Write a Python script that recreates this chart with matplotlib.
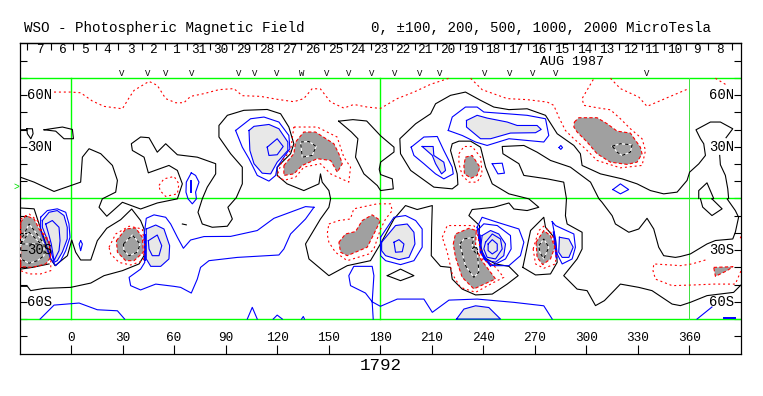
import matplotlib
import matplotlib.pyplot as plt
matplotlib.use('Agg')

# longitude ticks and labels
LON_TICKS = [0, 30, 60, 90, 120, 150, 180, 210, 240, 270, 300, 330, 360]
LAT_TICKS = [-80, -70, -60, -50, -40, -30, -20, -10, 0, 10, 20, 30, 40, 50, 60, 70, 80]
LAT_LABELS = [(60, '60N'), (30, '30N'), (-30, '30S'), (-60, '60S')]

# day of month along the top
DAY_TICKS = [-25.4, -11.4, 1.4, 14.4, 27.6, 41.5, 54.5, 67.3, 80.7, 93.9, 107.4, 120.8, 134, 147, 160.8,
             174.8, 186.6, 200.5, 213.1, 226.7, 239.3, 252.3, 266.1, 279.1, 292.4, 305.2, 319.2, 332.4,
             345.4, 358.2, 371, 384.8]
DAY_LABELS = ['7', '6', '5', '4', '3', '2', '1', '31', '30', '29', '28', '27', '26', '25', '24', '23', '22',
              '21', '20', '19', '18', '17', '16', '15', '14', '13', '12', '11', '10', '9', '8']
DAY_LONS = [-18.2, -5, 8.1, 21.2, 34.7, 47.4, 60.9, 74.3, 87.1, 100.5, 113.8, 127.2, 140.4, 154, 167, 180,
            192.8, 205.8, 219.1, 232.5, 245.7, 258.7, 272.1, 285.5, 298.8, 312, 325.6, 338.2, 351.2, 364.4, 378]

# observation marks above the map
OBS_LONS = [29.3, 44.4, 55.1, 70.2, 97.7, 107, 119.5, 134.2, 148.6, 161.7, 174.9, 188.3, 203, 214.5, 240.8,
            255.4, 268.8, 282, 334.9]
OBS_MARKS = ['V', 'V', 'V', 'V', 'V', 'V', 'V', 'W', 'V', 'V', 'V', 'V', 'V', 'V', 'V', 'V', 'V', 'V', 'V']

# strong negative field, grey
GREY_FILLS = [
    [(123.9, 19.2), (129.7, 26), (130.7, 32.8), (135.5, 38.6), (142.3, 38.6), (153, 31.8), (155.9, 26), (157.9, 20.2),
     (155, 15.3), (151.1, 22.1), (143.3, 23.1), (134.6, 19.2), (129.7, 14.3), (123.9, 13.4)],
    [(293, 44.4), (295.6, 46.9), (306.2, 46.9), (312.1, 43.4), (317.9, 39.1), (325.6, 38), (331.4, 29.8), (332.4, 26),
     (329.5, 21.1), (323.7, 19.8), (314, 21.1), (306.2, 26), (300.4, 32.8), (294.6, 38.6), (292.7, 41.5)],
    [(229.6, 24), (233.5, 25), (238, 18.2), (236.4, 13.4), (232.9, 11.8), (229, 14.3), (228.7, 19.2)],
    [(-29.3, -13.8), (-26.4, -9.9), (-21.5, -11.9), (-18.6, -17.7), (-12.8, -25.4), (-11.8, -34.1), (-14.7, -38),
     (-22.5, -40), (-29.3, -39.6)],
    [(26.4, -24.5), (31.8, -17.7), (37.6, -17.1), (41.5, -22.5), (42.1, -31.2), (36.7, -36.1), (31.8, -36.1), (27, -31.2)],
    [(155.9, -25.4), (159.8, -20.6), (165.6, -19.2), (169.5, -12.8), (175.3, -9.5), (180.1, -12.8), (176.3, -20.6),
     (172.4, -28.3), (160.8, -33.2), (156.9, -31.2)],
    [(222.5, -26.4), (223.8, -20.6), (231.6, -17.3), (235.9, -18.6), (235.5, -27.3), (238.4, -35.1), (244.2, -42.8),
     (247.1, -46.7), (234.5, -52.5), (227.7, -45.8), (223.8, -34.1)],
    [(270.7, -25.4), (275.2, -18.6), (279.1, -21.6), (281.6, -28.3), (279.1, -35.1), (274.6, -38.4), (271.3, -34.2)],
    [(374.1, -40), (385.3, -39.6), (381.9, -41.9), (375.1, -45.2)],
]

# strong positive field, light grey
LIGHT_FILLS = [
    [(103.6, 39.5), (106.5, 41.9), (115.2, 43), (121, 40.5), (126.2, 32.8), (126.2, 27.9), (120, 21.1), (116.2, 14.3),
     (111.3, 14.7), (106.5, 20.2), (104.1, 27.9)],
    [(230.2, 45.3), (236.4, 48.3), (242.2, 46.7), (253.9, 44.4), (259.7, 42.4), (271.3, 42.4), (273.7, 40.1),
     (270.4, 38.2), (255.8, 38), (244.2, 34.7), (238.4, 34.7), (230.2, 41.5)],
    [(204.4, 30.2), (210.8, 30.2), (211.2, 25), (217, 21.1), (218, 16.3), (215.7, 14.3), (212.2, 20.2), (210.3, 25)],
    [(-16.7, -12.8), (-12.8, -8), (-8, -7), (-4.1, -9.9), (-2.2, -16.7), (-2.2, -23.5), (-5.1, -31.2), (-8, -36.1),
     (-9.9, -37.1), (-12.8, -26.4), (-16.7, -16.7)],
    [(43.8, -17.7), (49.3, -15.4), (54.1, -17.7), (57.4, -27.4), (57, -35.1), (52.2, -39.4), (46.4, -39.4), (43.8, -35.1)],
    [(180.8, -25.4), (188.9, -15.7), (195.7, -14.8), (199.6, -19.6), (200.2, -26.4), (196.7, -34.2), (190.9, -35.5),
     (183.1, -33.2), (180.8, -30.3)],
    [(239.3, -21.5), (244.2, -18.6), (249, -20.6), (252.9, -26.4), (251.9, -33.2), (247.1, -37), (242.2, -36), (238.4, -29.3)],
    [(284.3, -22.5), (289.8, -23.5), (292.3, -28.3), (289.8, -34.2), (285.9, -34.2), (283.9, -31.2)],
    [(224.4, -70), (228.7, -64.2), (235.5, -62.3), (243.2, -63.3), (250, -70)],
]

# zero contour, black
BLACK_OPEN = [
    [(-29.6, 12.4), (-21.5, 9.5), (-9.9, 4.1), (5.6, 9.5), (6.6, 24), (10.5, 28.9), (17.3, 26), (24.1, 19.2), (27, 10.5),
     (26, 3.7), (18.2, -0.2), (16.3, -5.1), (20.8, -10.3), (29.9, -2.2), (40.5, -6.1), (50.2, -2.6), (61.9, -0.2),
     (64.8, 8.5), (61.9, 16.3), (57, 19.2), (45, 14.9), (42.5, 24), (35.7, 27.9), (35.1, 31.8), (40.5, 35.7),
     (45.4, 35.3), (50.2, 26.9), (55.1, 31.8), (61.9, 25.4), (73.5, 24), (84.2, 20.2), (84.2, 14.3), (79.3, 6.6),
     (76.4, -0.2), (73.9, -8), (76.4, -14.8), (82.2, -16.7), (91, -16.1), (93.9, -11.9), (91.3, -5.1), (96.2, 0.5),
     (99.7, 8.5), (99.7, 18.2), (92.9, 26), (86.1, 35.7), (86.1, 42.4), (91, 48.3), (100.6, 51.2), (114.2, 51.7),
     (122, 49.2), (126.8, 41.5), (129.7, 31.8), (127.8, 26), (120, 18.2), (120, 13.4), (125.8, 8.5), (135.5, 4.6),
     (144.3, 8.5), (145.2, 14.3), (146.2, 9.5), (150.1, 4.6), (151.1, -0.2), (150.1, -5.1), (145.2, -11.9),
     (136.5, -26.4), (138.5, -35.1), (150.1, -44.8), (160.8, -39), (174.3, -36.1), (180.1, -26.4), (188, -11.9),
     (194.7, -4.1), (201.5, -6.4), (210.3, -4.1), (209.9, -17.7), (209.7, -33.2), (215.1, -39.4), (220.9, -40),
     (221.9, -46.8), (227.7, -52.6), (235.5, -56), (245.2, -55.5), (253.9, -49.7), (260.3, -44.8), (254.9, -39.4),
     (247.1, -38), (240.3, -34.2), (237.4, -23.5), (237.8, -15.7), (231.6, -9.9), (233.5, -6.4), (246.1, -5.1),
     (254.9, -2.6), (257.8, -6.1), (265.5, -7), (272.3, -5.1), (266.5, -0.2), (254.9, 2.7), (245.2, 8.5), (241.3, 18.2),
     (238.4, 29.8), (232.6, 33.3), (225.8, 33.3), (221.9, 31.8), (220.9, 27.9), (224.8, 14.3), (225.2, 8.1), (221.9, 5.6),
     (211.2, 6.6), (197.7, 16.3), (191.8, 26), (191.4, 34.7), (200.6, 43.4), (209.3, 49.2), (212.2, 55), (220.9, 59.9),
     (229.6, 61.8), (238.4, 57), (246.1, 53.1), (254.9, 51.6), (265.5, 52.1), (276.2, 48.3), (283, 37.6), (292.7, 30.8),
     (296.5, 26), (297.5, 19.2), (308.2, 14.3), (320.8, 11.4), (329.5, 8.5), (337.3, 4.6), (345, 2.7), (352.8, 3.7),
     (358.6, 10.5), (360.1, 15.3), (365.4, 20.1), (369.3, 25), (368.3, 31.8), (366.4, 34.7), (363.8, 39.9), (372.2, 44.4),
     (378, 44.4), (385.2, 40.5), (381.3, 35.3)],
    [(377.6, 25), (378, 19.6), (380.9, 13.4), (382.3, 5.6), (382.8, 0), (381.9, -0.2), (386.7, -7), (388.6, -10.9),
     (386.7, -19.6), (385.2, -23.5), (375.1, -24.4), (370.2, -26.4), (360.5, -32.2), (354.7, -33.7), (351.8, -34.2),
     (345, -33.2), (342.1, -28.3), (339.2, -17.7), (335.3, -11.5), (330.5, -17.7), (324.7, -19.6), (316.9, -14.8),
     (315, -10), (309.1, -2.2), (307.2, 0), (302.4, 9.5), (290.7, 18.2), (279.1, 22.1), (271.3, 26.9), (263.6, 30.8),
     (251, 30.2), (251.4, 26), (260.7, 20.2), (263.6, 13.4), (277.2, 11.4), (286.8, 9.5), (288.4, -0.2), (287.8, -10),
     (288.8, -14.8), (297.5, -19.6), (297.5, -29.3), (294.6, -35.1), (286.8, -44.8), (294.6, -52.6), (300.4, -53.5),
     (305.3, -62.2), (310.5, -59.3), (319.8, -49.7), (330.5, -51.6), (338.2, -53.5), (349.9, -61.3), (354.7, -62.2),
     (360.5, -60.3), (370.2, -56.4), (385.7, -54.5), (390, -50.2)],
    [(-29.6, -51), (-25.4, -51), (-23.5, -53.5), (-15.7, -52.2), (-0.2, -51.6), (11.5, -49.1), (19.2, -44.8), (29.9, -41.9),
     (39.6, -38), (42.5, -33.2), (43.4, -27.4), (42.5, -17.7), (40.5, -12.8), (35.3, -6.1), (28.9, -12.3), (20.8, -17.3),
     (15.3, -24.5), (11.5, -35.7), (5.6, -35.7), (2.7, -31.2), (0.4, -24.1), (-2.1, -33.2), (-9.3, -39), (-11.8, -35.1),
     (-18.6, -14.8), (-21.5, -6), (-29.3, -5.5)],
    [(-29.3, -41), (-22.5, -40), (-12.8, -38)],
    [(-29.6, 39.9), (-25.8, 40)],
    [(365.4, 0), (365.4, 4.6), (370.2, 9.1), (374.1, 0), (373.1, -0.2)],
    [(366.4, -0.2), (367.7, -5), (373.1, -9.9), (379, -6), (373.1, -0.2)],
    [(64.8, -14.8), (67.1, -15.3)],
]
BLACK_CLOSED = [
    [(155.8, 44.9), (164.1, 45.8), (172.1, 45), (180.2, 36.4), (188, 29.8), (188, 27), (180.2, 21.1), (179.4, 17),
     (180.2, 13.9), (187, 11.4), (187.6, 5.6), (180.2, 4.6), (178.3, 7.5), (170.5, 14.3), (165.6, 24), (167, 34.7),
     (163.2, 38.6)],
    [(-15.7, 39.9), (-5, 41.5), (0.8, 40.1), (1.4, 34.7), (-4.1, 34.7), (-8.9, 39.1)],
    [(-25.8, 40.5), (-22.5, 40.5), (-22.1, 37.6), (-23.4, 34.7), (-25.4, 37.6)],
    [(184.1, -44.8), (191.8, -41), (199.6, -44.8), (191.8, -47.7)],
    [(263, -40), (267.5, -18.6), (275.2, -10.9), (276.2, -16.7), (282, -23.5), (283, -37.1), (279.1, -43.8), (270.4, -44.4)],
]

# inner contours drawn dashed on the grey
DASHED_CLOSED = [
    [(133.6, 32.8), (138.5, 33.1), (142.7, 30.2), (140.4, 25), (134.6, 24)],
    [(315, 30.4), (319.8, 31.8), (326.6, 31.2), (325.6, 26.9), (320.8, 25), (317.9, 26.9)],
    [(-29.3, -26.4), (-28.3, -22.5), (-24.4, -14.8), (-20.6, -19.6), (-15.7, -26.4), (-15.7, -33.2), (-19.6, -36.1),
     (-24.4, -37.6), (-29.3, -35.1), (-29.3, -26.4), (-24.4, -19.6), (-17.5, -26.4)],
    [(30.5, -26.4), (35.7, -21.2), (40.2, -26.4), (38.6, -31.2), (33.8, -33.2), (30.8, -30.3)],
    [(226.3, -26.4), (228.7, -23.5), (234.5, -22.5), (233.5, -27.3), (236.4, -29.3), (237.4, -42.8), (234.5, -45.8), (229.6, -39)],
    [(233.5, -29.3), (235.5, -27.3), (236.8, -30.2), (235.5, -31.6)],
    [(272.3, -27.4), (275.2, -23.5), (278.1, -28.3), (275.2, -35.1), (272.9, -31.2)],
]

# positive contours, blue
BLUE_CLOSED = [
    [(95.8, 39.5), (104.5, 46.3), (112.3, 47.3), (121, 44.4), (126.8, 36.6), (127.4, 28.9), (123.9, 24), (120, 18.2),
     (119.1, 13.4), (115.2, 10.1), (108.4, 13.4), (103.6, 23.1), (99.7, 29.8)],
    [(114.2, 29.8), (120, 34.7), (123.5, 30.2), (120, 25.4), (115.2, 25)],
    [(70, 14.9), (72.5, 13.4), (74.5, 9.5), (72.5, 3.7), (73, -0.2), (70.6, -3.1), (68.1, -0.2), (66.9, 3.7), (67.1, 9.5)],
    [(5.6, -24.5), (6.6, -26.4), (5.6, -30.3), (4.7, -26.4)],
    [(141.4, -5.1), (136.5, -4.7), (118.1, -11.5), (108.4, -18.6), (92.9, -22), (77.4, -22.1), (69.6, -24.1), (65.4, -28.9),
     (61.9, -22.5), (58, -14.8), (55.1, -10.9), (48.3, -9.5), (43.8, -11.5), (42.5, -21.6), (42.9, -37.1), (40.5, -41),
     (33.8, -45.8), (34.7, -50.6), (40.5, -53.1), (49.3, -49.7), (59.9, -51), (63.8, -51.6), (70, -54.9), (73.5, -46.8),
     (75.4, -40), (80.3, -36.1), (96.8, -34.2), (121, -32.8), (123.9, -29.3), (127.8, -20.6), (136.5, -11.9)],
    [(45, -24.5), (50.2, -21.2), (52.8, -27.4), (51.2, -33.2), (47.3, -33.2), (45.4, -29.3)],
    [(198, 29.8), (205.4, 35.7), (213.2, 36), (217, 27.9), (221.9, 18.2), (222.5, 14.3), (217, 11.4), (212.2, 14.3),
     (205.4, 20.2), (199.6, 25)],
    [(219.6, 39.5), (221.9, 47.3), (229.6, 53.1), (236.4, 53.1), (240.3, 50.2), (253.9, 49.2), (265.5, 48.3), (276.2, 46.3),
     (278.1, 36.6), (275.2, 32.8), (265.5, 33.7), (254.9, 34.7), (242.2, 30.8), (235.5, 32.8), (227.7, 36.6)],
    [(245.2, 20.2), (251, 20.5), (252.3, 14.7), (248.5, 14.3)],
    [(284.1, 29.6), (285.1, 30.8), (286.1, 29.6), (285.1, 28.5)],
    [(315.4, 5.2), (319.8, 8.5), (324.6, 5.2), (319.8, 2.7)],
    [(-17.7, -10.9), (-13.8, -7), (-8, -6), (-3.1, -8), (-1.2, -14.8), (-0.6, -22.5), (-3.1, -30.3), (-6, -36.1),
     (-8.9, -39), (-11.8, -35.1), (-15.7, -24.5), (-17.7, -18.6)],
    [(-14.7, -14.8), (-10.9, -12.8), (-7, -16.7), (-6.4, -24.5), (-7, -30.3), (-9.9, -36.1), (-11.5, -26.4), (-12.8, -21.5)],
    [(180.2, -22.5), (188, -10.9), (194.7, -9.9), (200.6, -12.8), (204.4, -17.7), (204.4, -28.3), (199.6, -36.1),
     (191.8, -38.4), (183.1, -36.1), (180.2, -33.2)],
    [(188, -25.4), (190.9, -23.9), (193.8, -26.4), (192.8, -30.9), (188.9, -31.2)],
    [(236.4, -16.7), (239.3, -10.9), (248.1, -13.8), (260.7, -17.7), (263.6, -25.4), (261.6, -33.2), (254.9, -39),
     (246.1, -39), (241.3, -36.1), (238.4, -29.3)],
    [(237.4, -17.7), (240.3, -14.7), (248.1, -15.7), (255.8, -21.5), (256.2, -29.3), (252.9, -35.1), (245.2, -39),
     (240.3, -35.1), (238, -27.3)],
    [(241.3, -25.4), (245.2, -20.6), (250, -23.5), (251, -29.3), (247.1, -35.1), (242.2, -34.1), (240.3, -29.3)],
    [(242.8, -26.4), (245.2, -23.9), (248.1, -26.4), (248.1, -30.2), (245.2, -32.2), (242.8, -30.2)],
    [(280.1, -13.4), (282, -15.7), (292.7, -20.6), (293.6, -28.3), (291.7, -35.1), (285.9, -38), (283, -32.2), (282, -23.5)],
]
BLUE_OPEN = [
    [(-18, -70), (-9.9, -61.9), (4.7, -60.7), (15.3, -64.6), (27, -65.2), (31.2, -70)],
    [(102.6, -70), (105.5, -63.2), (108.4, -70)],
    [(117.7, -70), (120, -67.7), (123, -70)],
    [(134.2, -70), (135.2, -68.5), (135.9, -70)],
    [(175.3, -60), (176.3, -44.8), (175.3, -39.4), (164.6, -39.4), (161.7, -44.8), (162.7, -50.6), (171.4, -54.9),
     (175.3, -60), (180.1, -62.6), (189.9, -58.4), (205.4, -58.4), (210.3, -66.1), (220, -59), (236.4, -58.4),
     (257.8, -60.3), (275.2, -62.3), (280.1, -70)],
    [(175.3, -60), (175.9, -70)],
    [(364.4, -70), (373.1, -63)],
]
BLUE_THICK = [
    [(70, 10), (70, 4)],
    [(238, -21.5), (238.4, -31.2), (244.2, -39)],
    [(281, -19.6), (282.6, -34.2)],
    [(43, -21), (43, -36)],
    [(379.9, -69.6), (386.7, -69.6)],
]

# negative contours, red dotted
RED_OPEN = [
    [(-9.9, 61.8), (-0.2, 61.8), (5.6, 61.4), (12.4, 56.6), (19.2, 53.5), (29.9, 52.1), (33.8, 58.5), (36.7, 62.8), (45.4, 68),
     (50.2, 65.7), (55.1, 58), (60.9, 55.6), (65.7, 55.6), (69.6, 59.3), (77.4, 60.9), (86.1, 63.2), (94.8, 63.8),
     (99.7, 59.7), (110.3, 59.3), (120, 57.6), (129.7, 56.2), (135.5, 58), (140.4, 63.8), (145.2, 63.6), (151.1, 56),
     (158.8, 52.5), (164.6, 54.6), (172.4, 53.1), (180.1, 52.3), (189.9, 58), (199.6, 61.8), (209.3, 66.3), (219.9, 69.8)],
    [(232.6, 69.8), (239.3, 63.2), (253.9, 58), (265.5, 57.4), (277.2, 56), (281, 54.1), (283.9, 47.3), (287.8, 39.5),
     (292.7, 34.7), (299.4, 28.9), (306.2, 22.1), (319.8, 17.8), (332.4, 19.2), (334.4, 27.9), (332.4, 34.7), (325.6, 40.5),
     (319.8, 46.3), (314, 51.5), (306.2, 52.7), (298.5, 54.1), (297.5, 58), (304.3, 69.6)],
    [(314, 69.8), (319.8, 63.8), (330.5, 58.9), (335.3, 53.5), (347, 58.5), (359.6, 63.8)],
    [(375.1, 69.8), (381.9, 65.7)],
    [(369.3, -35.7), (361.5, -38), (354.7, -39), (348.9, -38.6), (339.2, -38), (338.8, -42), (340.2, -46.8), (349.9, -50.6),
     (362.5, -50.2), (374.1, -49.7), (386.7, -49.7), (390, -42)],
    [(390, -22), (389.2, -24)],
]
RED_CLOSED = [
    [(51.2, 7.6), (54.1, 11.4), (60, 12.8), (62.8, 8.5), (61.9, 2.7), (55.1, 1.2), (51.8, 4.6)],
    [(129.7, 41.5), (143.3, 41.5), (154.9, 35.7), (158.8, 24), (162.7, 18.2), (161.7, 9.5), (151.1, 14.3), (145.2, 20.2),
     (135.5, 18.2), (130.7, 12.4), (123.9, 10.5), (120, 13.4), (123, 22.1), (127.8, 27.9)],
    [(225.8, 26), (228.7, 30.2), (233.5, 30.2), (238.4, 24), (239.3, 14.3), (236.4, 9.5), (231.6, 9.5), (227.7, 13.4), (225.8, 20.2)],
    [(-29.3, -11.9), (-24.4, -9), (-19.6, -12.8), (-17.7, -17.7), (-12.8, -24.5), (-11.8, -36.1), (-11.8, -41.9),
     (-17.7, -43.8), (-24.4, -43.8), (-29.3, -41.9)],
    [(22.1, -28.3), (26, -20.6), (33.8, -16.1), (41.5, -17.7), (42.9, -27.4), (42.1, -36.1), (34.7, -38.6), (27.9, -37.1), (23.1, -32.2)],
    [(150.1, -14.8), (155.9, -12.8), (162.6, -11.9), (164.6, -6), (178.2, -3.1), (186, -3.1), (187, -7), (183.1, -11.9),
     (180.2, -17.7), (176.3, -29.3), (173.4, -32.2), (160.8, -36.1), (153.9, -31.2), (150.1, -25.4), (149.1, -20.6)],
    [(216.1, -22.5), (219, -15.7), (234.5, -15.7), (236.4, -19.6), (239.3, -35.1), (247.1, -39.9), (251.9, -45.8),
     (246.1, -48.7), (235.5, -54.5), (226.7, -51.6), (221.9, -43.8), (219, -31.2)],
    [(269, -29.3), (272.3, -18.6), (275.2, -16.1), (280.1, -20.6), (282.4, -31.2), (282, -38), (275.2, -40.5), (270.4, -38)],
]

MONO = 'Liberation Mono'
W, H = 763, 396


def draw(pts, closed=False, **kw):
    if closed:
        pts = pts + pts[:1]
    ax.plot([p[0] for p in pts], [p[1] for p in pts], **kw)


fig = plt.figure(figsize=(W / 100, H / 100), dpi=100)
ax = fig.add_axes([19.5 / W, 1 - 353.5 / H, 721.5 / W, 310 / H])
ax.set_xlim(-30, 390)
ax.set_ylim(-90, 90)

for poly in LIGHT_FILLS:
    ax.fill([p[0] for p in poly], [p[1] for p in poly], color='#e8e8e8', lw=0, zorder=1)
for poly in GREY_FILLS:
    ax.fill([p[0] for p in poly], [p[1] for p in poly], color='#a0a0a0', lw=0, zorder=1)

ax.axhline(70, color='#00ff00', lw=1, zorder=2)
ax.axhline(0, color='#00ff00', lw=1, zorder=2)
ax.axhline(-70, color='#00ff00', lw=1, zorder=2)
ax.plot([0, 0], [-70, 70], color='#00ff00', lw=1, zorder=2)
ax.plot([180, 180], [-70, 70], color='#00ff00', lw=1, zorder=2)
ax.plot([360, 360], [-70, 70], color='#40e040', lw=0.7, zorder=2)

LW = 0.8
DOT = (0, (1.8, 2.6))
for c in BLACK_OPEN:
    draw(c, color='black', lw=LW, zorder=3)
for c in BLACK_CLOSED:
    draw(c, True, color='black', lw=LW, zorder=3)
for c in LIGHT_FILLS:
    draw(c, True, color='#0000ff', lw=LW, zorder=4)
for c in BLUE_CLOSED:
    draw(c, True, color='#0000ff', lw=LW, zorder=4)
for c in BLUE_OPEN:
    draw(c, color='#0000ff', lw=LW, zorder=4)
for c in BLUE_THICK:
    draw(c, color='#0000ff', lw=1.4, zorder=4)
for c in RED_OPEN:
    draw(c, color='red', lw=LW, ls=DOT, zorder=5)
for c in RED_CLOSED:
    draw(c, True, color='red', lw=LW, ls=DOT, zorder=5)
for c in GREY_FILLS:
    draw(c, True, color='red', lw=LW, ls=(0, (3, 2)), zorder=5)
for c in DASHED_CLOSED:
    draw(c, True, color='white', lw=LW, zorder=6)
    draw(c, True, color='black', lw=LW, ls=(0, (3, 3)), zorder=7)

# ticks
ax.set_xticks(LON_TICKS)
ax.set_xticklabels([])
ax.set_yticks(LAT_TICKS)
ax.set_yticklabels([])
ax.tick_params(axis='x', direction='in', length=6.5, width=0.8, bottom=True, top=False)
ax.tick_params(axis='y', direction='in', length=5, width=0.8, left=True, right=True)
top = ax.secondary_xaxis('top')
top.set_xticks(DAY_TICKS)
top.set_xticklabels([])
top.tick_params(direction='in', length=5, width=0.8)
for s in list(ax.spines.values()) + [top.spines['top']]:
    s.set_linewidth(0.9)

for lon in LON_TICKS:
    ax.text(lon, -81.2, str(lon), family=MONO, fontsize=9.2, ha='center', va='center', zorder=8)
for lat, lab in LAT_LABELS:
    ax.text(-18.5, lat, lab, family=MONO, fontsize=10, ha='center', va='center', zorder=8)
    ax.text(378.5, lat, lab, family=MONO, fontsize=10, ha='center', va='center', zorder=8)
for lon, lab in zip(DAY_LONS, DAY_LABELS):
    ax.text(lon, 86, lab, family=MONO, fontsize=9.2, ha='center', va='center')
for lon, lab in zip(OBS_LONS, OBS_MARKS):
    ax.text(lon, 72.7, lab, family=MONO, fontsize=6.5, ha='center', va='center')

ax.text(291.9, 79.2, 'AUG 1987', family=MONO, fontsize=9.6, ha='center', va='center')
ax.text(-32, 7, '>', family=MONO, fontsize=7, color='#00e000', ha='center', va='center', clip_on=False)

fig.text(24 / W, 1 - 28 / H, 'WSO - Photospheric Magnetic Field', family=MONO, fontsize=10.3, ha='left', va='center')
fig.text(371 / W, 1 - 28 / H, '0, \u00b1100, 200, 500, 1000, 2000 MicroTesla', family=MONO, fontsize=10.2, ha='left', va='center')
fig.text(381 / W, 1 - 366 / H, '1792', family=MONO, fontsize=12.6, ha='center', va='center')

fig.savefig('out.png', dpi=100)
